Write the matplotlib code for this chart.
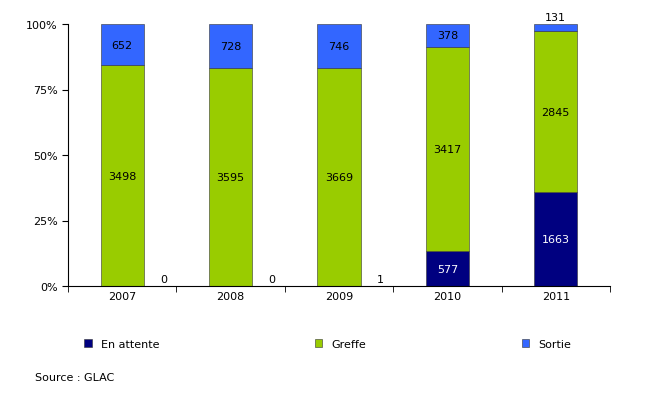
import matplotlib
matplotlib.use("Agg")
import matplotlib.pyplot as plt
import numpy as np

years = ["2007", "2008", "2009", "2010", "2011"]
attente = [0, 0, 1, 577, 1663]
greffe = [3498, 3595, 3669, 3417, 2845]
sortie = [652, 728, 746, 378, 131]

a = np.array(attente, float); g = np.array(greffe, float); s = np.array(sortie, float)
tot = a + g + s
pa, pg, ps = a/tot*100, g/tot*100, s/tot*100

fig = plt.figure(figsize=(6.55, 4.06), dpi=100)
ax = fig.add_axes([68/655, 1-287/406, (610-68)/655, (287-25)/406])
x = np.arange(len(years))
w = 0.4
c1, c2, c3 = "#000080", "#99CC00", "#3366FF"
ax.bar(x, pa, w, color=c1, edgecolor="#333333", linewidth=0.4, label="En attente")
ax.bar(x, pg, w, bottom=pa, color=c2, edgecolor="#333333", linewidth=0.4, label="Greffe")
ax.bar(x, ps, w, bottom=pa+pg, color=c3, edgecolor="#333333", linewidth=0.4, label="Sortie")
fs = 8
for i in range(len(years)):
    if a[i] > 10:
        ax.text(x[i], pa[i]/2, attente[i], ha="center", va="center", color="white", fontsize=fs)
    else:
        ax.text(x[i]+0.38, 2.5, attente[i], ha="center", va="center", fontsize=fs)
    ax.text(x[i], pa[i]+pg[i]/2, greffe[i], ha="center", va="center", fontsize=fs)
    if ps[i] > 5:
        ax.text(x[i], pa[i]+pg[i]+ps[i]/2, sortie[i], ha="center", va="center", fontsize=fs)
    else:
        ax.text(x[i], 102.5, sortie[i], ha="center", va="center", fontsize=fs)
ax.set_xlim(-0.5, len(years)-0.5)
ax.set_ylim(0, 100)
ax.set_yticks([0, 25, 50, 75, 100])
ax.set_yticklabels(["0%", "25%", "50%", "75%", "100%"], fontsize=fs)
ax.set_xticks(x)
ax.set_xticklabels(years, fontsize=fs)
ax.set_xticks(np.arange(-0.5, len(years)), minor=True)
ax.tick_params(axis="x", which="major", length=0)
ax.tick_params(axis="x", which="minor", length=4, direction="out")
ax.tick_params(axis="y", length=4, direction="out")
for sp in ["top", "right"]:
    ax.spines[sp].set_visible(False)
fig.legend(loc="center", bbox_to_anchor=(0.5, 1-345/406), ncol=3, frameon=False,
           fontsize=fs, handlelength=0.7, handleheight=0.7, columnspacing=14)
fig.text(35/655, 1-378/406, "Source : GLAC", fontsize=fs, va="center")
fig.savefig("out.png", dpi=100)
